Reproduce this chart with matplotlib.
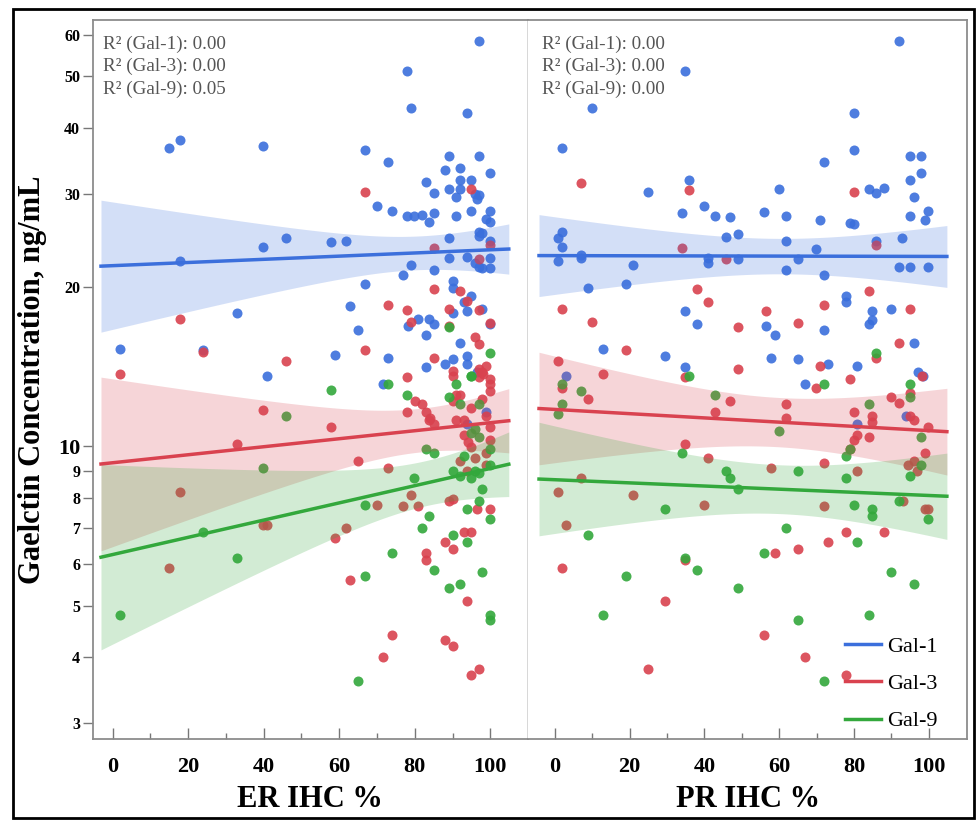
import numpy as np
import matplotlib
matplotlib.use("Agg")
import matplotlib.pyplot as plt
from matplotlib.lines import Line2D
from matplotlib.patches import Rectangle
from matplotlib.ticker import FixedLocator, FixedFormatter

plt.rcParams['font.family'] = ['Liberation Serif', 'DejaVu Serif']

# ---- ER panel data (x = ER IHC %, y = ng/mL) ----
er_gal1_x = [96.9, 77.9, 79, 93.9, 14.8, 17.8, 39.8, 66.9, 72.9, 89, 96.9, 88, 91.9, 100, 83, 91.9, 95,
             89, 91.9, 96, 97, 96.5, 85, 90.9, 69.9, 73.9, 77.9, 79.8, 81.8, 85, 83.9, 90.9, 95, 100, 99,
             100, 96.9, 97.9, 96.9, 89, 100, 39.8, 45.8, 57.9, 61.8, 17.8, 79, 76.9, 89, 93.9, 96, 96.9,
             97.9, 100, 100, 85, 66.9, 90, 90, 62.9, 32.9, 95, 93, 93.9, 97.9, 90, 64.9, 80.8, 83.9, 85,
             78.1, 83, 100, 91.9, 1.8, 23.9, 58.9, 72.9, 83, 88, 90, 93.9, 93.9, 40.9, 71.7, 96.5, 98.9, 93.9]
er_gal1_y = [58.4, 51.1, 43.6, 42.6, 36.6, 37.9, 36.9, 36.3, 34.4, 35.4, 35.3, 33.3, 33.6, 32.9, 31.6, 31.8, 31.9,
             30.6, 30.6, 30.0, 29.8, 29.3, 30.1, 29.6, 28.4, 27.8, 27.3, 27.2, 27.4, 27.6, 26.5, 27.3, 27.8, 27.9, 26.9,
             26.5, 25.4, 25.3, 25.0, 24.8, 24.4, 23.8, 24.8, 24.3, 24.4, 22.4, 22.0, 21.1, 22.7, 22.8, 22.2, 21.8,
             21.7, 21.7, 22.7, 21.5, 20.3, 20.5, 19.9, 18.4, 17.9, 19.2, 18.7, 18.0, 18.2, 17.9, 16.6, 17.4, 17.4, 17.0,
             16.9, 16.2, 17.0, 15.7, 15.3, 15.2, 14.9, 14.7, 14.1, 14.3, 14.6, 14.8, 14.3, 13.6, 13.1, 13.8, 11.6, 11.0]

er_gal3_x = [66.9, 95, 85, 100, 96.9, 85, 91.9, 17.8, 72.9, 77.9, 79, 89, 93.9, 96.9, 89, 100, 23.9, 45.8,
             66.9, 85, 90, 77.9, 96, 96.9, 97, 99, 98, 100, 1.8, 90, 96.9, 97.9, 100, 100, 91, 91.9, 90, 80,
             81.8, 83, 84, 85, 83.9, 77.9, 39.8, 57.9, 95, 97.9, 98.9, 91, 93, 93, 95, 94, 100, 100, 32.9,
             64.9, 72.9, 91.9, 93.9, 96, 98.9, 98.9, 17.8, 79, 69.9, 76.9, 80.8, 89, 90, 96.5, 100, 39.8,
             40.9, 61.8, 58.9, 93, 95, 88, 90, 83, 83, 14.8, 62.9, 93.9, 73.9, 71.7, 88, 90, 96.9, 95]
er_gal3_y = [30.2, 30.7, 23.7, 24.0, 22.6, 19.8, 19.7, 17.4, 18.5, 18.1, 17.2, 18.2, 18.8, 18.1, 16.9, 17.1, 15.1, 14.5,
             15.2, 14.7, 13.9, 13.5, 16.1, 15.6, 14.0, 14.2, 13.7, 13.4, 13.7, 13.6, 13.5, 13.8, 13.1, 12.7, 12.5, 12.5, 12.2, 12.2,
             12.0, 11.6, 11.3, 11.0, 11.2, 11.6, 11.7, 10.9, 11.8, 12.3, 11.4, 11.2, 11.2, 10.5, 9.96, 10.2, 10.9, 10.3, 10.1,
             9.4, 9.1, 9.4, 9.0, 9.5, 9.2, 9.7, 8.2, 8.1, 7.75, 7.7, 7.7, 7.9, 7.95, 7.6, 7.6, 7.1,
             7.1, 7.0, 6.7, 6.9, 6.9, 6.6, 6.4, 6.3, 6.1, 5.9, 5.6, 5.1, 4.4, 4.0, 4.3, 4.2, 3.8, 3.7]

er_gal9_x = [1.8, 23.9, 32.9, 39.8, 45.8, 57.9, 72.9, 66.9, 66.9, 64.9, 73.9, 77.9, 79.9, 81.8, 83, 85,
             83.9, 85, 89, 91.9, 89, 91, 91.9, 96.9, 95, 90, 91.9, 95, 96, 97, 93, 95, 97, 96, 100, 100,
             97.9, 96.9, 93.9, 100, 90, 93.9, 97.9, 100, 100, 89, 100, 95]
er_gal9_y = [4.8, 6.9, 6.15, 9.1, 11.4, 12.8, 13.1, 7.75, 5.7, 3.6, 6.3, 12.5, 8.7, 7.0, 9.9, 9.7,
             7.4, 5.85, 5.4, 5.5, 12.4, 13.1, 12.0, 12.0, 13.6, 9.0, 8.8, 8.7, 9.0, 8.9, 9.6, 10.6, 10.4, 10.8, 9.9, 9.2,
             8.3, 7.9, 7.6, 7.3, 6.8, 6.6, 5.8, 4.8, 4.7, 16.8, 15.0, 13.6]

# ---- PR panel data (x = PR IHC %) ----
pr_gal1_x = [92, 34.9, 9.9, 80, 1.9, 80, 71.9, 94.9, 97.9, 97.9, 94.9, 35.8, 59.9, 84, 86, 88, 96, 25,
             33.9, 39.9, 42.9, 46.9, 55.9, 61.9, 70.9, 78.9, 80, 94.9, 99.9, 98.9, 1.9, 0.7, 1.9, 0.7, 6.9,
             6.9, 45.9, 48.9, 40.9, 40.9, 48.9, 20.9, 18.9, 8.9, 61.9, 61.9, 64.9, 69.9, 71.9, 86, 92.9, 92,
             94.9, 99.9, 77.9, 77.9, 89.9, 84.9, 84.9, 84, 34.9, 37.9, 56.5, 59, 71.9, 96, 12.8, 29.5, 57.9,
             64.9, 73, 80.9, 34.9, 97, 98.5, 66.8, 2.9, 93.9, 80.7]
pr_gal1_y = [58.4, 51.1, 43.6, 42.6, 36.6, 36.3, 34.4, 35.4, 35.3, 32.9, 31.8, 31.9, 30.7, 30.7, 30.1, 30.8, 29.6, 30.3,
             27.6, 28.4, 27.3, 27.1, 27.7, 27.3, 26.8, 26.4, 26.3, 27.3, 27.9, 26.8, 25.4, 24.8, 23.8, 22.4, 23.0,
             22.7, 24.9, 25.2, 22.7, 22.2, 22.6, 22.0, 20.3, 19.9, 24.4, 21.5, 22.6, 23.6, 21.1, 24.4, 24.8, 21.8,
             21.8, 21.8, 19.2, 18.7, 18.2, 18.0, 17.3, 17.0, 18.0, 17.0, 16.9, 16.2, 16.6, 15.7, 15.3, 14.8, 14.7,
             14.6, 14.3, 14.2, 14.1, 13.8, 13.6, 13.1, 13.6, 11.4, 11.0]

pr_gal3_x = [6.9, 35.8, 80, 33.9, 45.9, 86, 37.9, 40.9, 84, 1.9, 9.9, 56.5, 71.9, 94.9, 48.9, 64.9, 18.9,
             0.7, 12.8, 48.9, 70.9, 92, 86, 78.9, 34.9, 69.9, 98.2, 1.9, 8.9, 42.9, 46.9, 61.9, 61.9, 80,
             80, 80.7, 78.9, 84.9, 84.9, 84, 89.9, 92, 94.9, 94.9, 96, 99.9, 98.9, 34.9, 40.9, 71.9, 57.9,
             80.9, 96, 94.4, 96.9, 6.9, 0.7, 20.9, 39.9, 71.9, 93, 98.9, 99.9, 2.9, 77.9, 88, 73, 64.9, 59,
             34.9, 1.9, 29.5, 55.9, 66.8, 25, 77.9]
pr_gal3_y = [31.5, 30.5, 30.2, 23.7, 22.6, 24.0, 19.8, 18.7, 19.7, 18.2, 17.2, 18.0, 18.5, 18.2, 16.8, 17.1, 15.2,
             14.5, 13.7, 14.0, 14.2, 15.7, 14.7, 13.4, 13.5, 12.9, 13.6, 12.9, 12.3, 11.6, 12.2, 12.0, 11.3, 11.6,
             10.3, 10.5, 9.9, 11.4, 11.1, 10.4, 12.4, 12.1, 12.6, 11.4, 11.2, 10.9, 9.7, 10.1, 9.5, 9.3, 9.1,
             9.0, 9.4, 9.2, 9.0, 8.7, 8.2, 8.1, 7.75, 7.7, 7.9, 7.6, 7.6, 7.1, 6.9, 6.9, 6.6, 6.4, 6.3,
             6.1, 5.9, 5.1, 4.4, 4.0, 3.8, 3.7]

pr_gal9_x = [35.8, 71.9, 94.9, 94.9, 42.9, 1.9, 1.9, 0.7, 6.9, 59.9, 84, 77.9, 78.9, 97.9, 33.9, 45.9,
             46.9, 48.9, 64.9, 77.9, 94.9, 97.9, 80, 84.9, 84.9, 92, 99.9, 29.5, 8.9, 61.9, 80.9, 55.9,
             34.9, 37.9, 18.9, 48.9, 89.9, 96, 12.8, 64.9, 84, 71.9, 86]
pr_gal9_y = [13.6, 13.1, 13.1, 12.4, 12.5, 13.1, 12.0, 11.5, 12.7, 10.7, 12.0, 9.6, 9.9, 10.4, 9.7, 9.0,
             8.7, 8.3, 9.0, 8.7, 8.8, 9.2, 7.75, 7.6, 7.4, 7.9, 7.3, 7.6, 6.8, 7.0, 6.6, 6.3,
             6.15, 5.85, 5.7, 5.4, 5.8, 5.5, 4.8, 4.7, 4.8, 3.6, 15.0]

labels = ['Gal-1', 'Gal-3', 'Gal-9']
colors = ['#3b6fdc', '#d9424f', '#33a83c']
er_r2 = ['0.00', '0.00', '0.05']
pr_r2 = ['0.00', '0.00', '0.00']


def fit_band(x, y, x_lo, x_hi):
    # linear fit on log10(y), 95% CI of the mean line
    x = np.asarray(x, float)
    ly = np.log10(np.asarray(y, float))
    n = len(x)
    b, a = np.polyfit(x, ly, 1)
    resid = ly - (a + b * x)
    s = np.sqrt(np.sum(resid ** 2) / (n - 2))
    grid = np.linspace(x_lo, x_hi, 100)
    se = s * np.sqrt(1.0 / n + (grid - x.mean()) ** 2 / np.sum((x - x.mean()) ** 2))
    t = 1.99
    mid = a + b * grid
    return grid, 10 ** mid, 10 ** (mid - t * se), 10 ** (mid + t * se)


fig = plt.figure(figsize=(9.76, 8.21), dpi=100)
ax1 = fig.add_axes([0.095, 0.1, 0.446, 0.876])
ax2 = fig.add_axes([0.541, 0.1, 0.450, 0.876], sharey=ax1)

panels = [
    (ax1, [(er_gal1_x, er_gal1_y), (er_gal3_x, er_gal3_y), (er_gal9_x, er_gal9_y)], er_r2, (-5.3, 110), 'ER IHC %'),
    (ax2, [(pr_gal1_x, pr_gal1_y), (pr_gal3_x, pr_gal3_y), (pr_gal9_x, pr_gal9_y)], pr_r2, (-7.2, 110.3), 'PR IHC %'),
]

for ax, series, r2, xlim, xlabel in panels:
    for (x, y), c in zip(series, colors):
        ax.scatter(x, y, s=52, color=c, alpha=0.9, linewidths=0, zorder=2)
    for (x, y), c in zip(series, colors):
        lo = min(x) - 0.05 * (max(x) - min(x))
        hi = max(x) + 0.05 * (max(x) - min(x))
        g, m, l, u = fit_band(x, y, lo, hi)
        ax.fill_between(g, l, u, color=c, alpha=0.22, linewidth=0, zorder=3)
        ax.plot(g, m, color=c, lw=2.5, zorder=4)
    ax.set_xlim(*xlim)
    ax.set_yscale('log')
    ax.set_ylim(2.8, 64)
    txt = '\n'.join('R² (%s): %s' % (lb, v) for lb, v in zip(labels, r2))
    ax.text(0.024 if ax is ax1 else 0.031, 0.978, txt, transform=ax.transAxes, ha='left', va='top',
            fontsize=13.8, color='#555555', linespacing=1.4)
    ax.set_xticks([0, 20, 40, 60, 80, 100])
    ax.set_xticks([10, 30, 50, 70, 90], minor=True)
    ax.tick_params(axis='x', which='major', direction='in', length=8, width=1, color='#777777',
                   labelsize=16, pad=13)
    ax.tick_params(axis='x', which='minor', direction='in', length=4, width=1, color='#777777')
    for lab in ax.get_xticklabels():
        lab.set_fontweight('bold')
    ax.text(0.5, -0.094, xlabel, transform=ax.transAxes, ha='center', va='baseline',
            fontsize=22, fontweight='bold')
    for sp in ax.spines.values():
        sp.set_color('#8c8c8c')
        sp.set_linewidth(1.3)

ax1.spines['right'].set_color('#d4d4d4')
ax2.spines['left'].set_visible(False)

ax1.yaxis.set_major_locator(FixedLocator([10]))
ax1.yaxis.set_major_formatter(FixedFormatter(['10']))
minor_vals = [3, 4, 5, 6, 7, 8, 9, 20, 30, 40, 50, 60]
ax1.yaxis.set_minor_locator(FixedLocator(minor_vals))
ax1.yaxis.set_minor_formatter(FixedFormatter([str(v) for v in minor_vals]))
ax1.tick_params(axis='y', which='major', direction='out', length=7, width=1, color='#777777',
                labelsize=16, pad=2)
ax1.tick_params(axis='y', which='minor', direction='out', length=7, width=1, color='#777777',
                labelsize=11.5, pad=2)
for lab in ax1.get_yticklabels() + ax1.get_yticklabels(minor=True):
    lab.set_fontweight('bold')
ax1.set_ylabel('Gaelctin Concentration, ng/mL', fontsize=22, fontweight='bold')
ax1.yaxis.set_label_coords(-0.105, 0.5)

ax2.tick_params(axis='y', which='both', left=False, labelleft=False)

handles = [Line2D([], [], color=c, lw=2.5) for c in colors]
ax2.legend(handles, labels, loc='lower right', bbox_to_anchor=(0.953, -0.002), frameon=False,
           fontsize=16, labelspacing=0.75, handlelength=1.6, handletextpad=0.3, borderaxespad=0)

fig.patches.append(Rectangle((0.0133, 0.0037), 0.985, 0.9854, transform=fig.transFigure,
                             fill=False, edgecolor='black', linewidth=2))

fig.savefig('out.png', dpi=100)
